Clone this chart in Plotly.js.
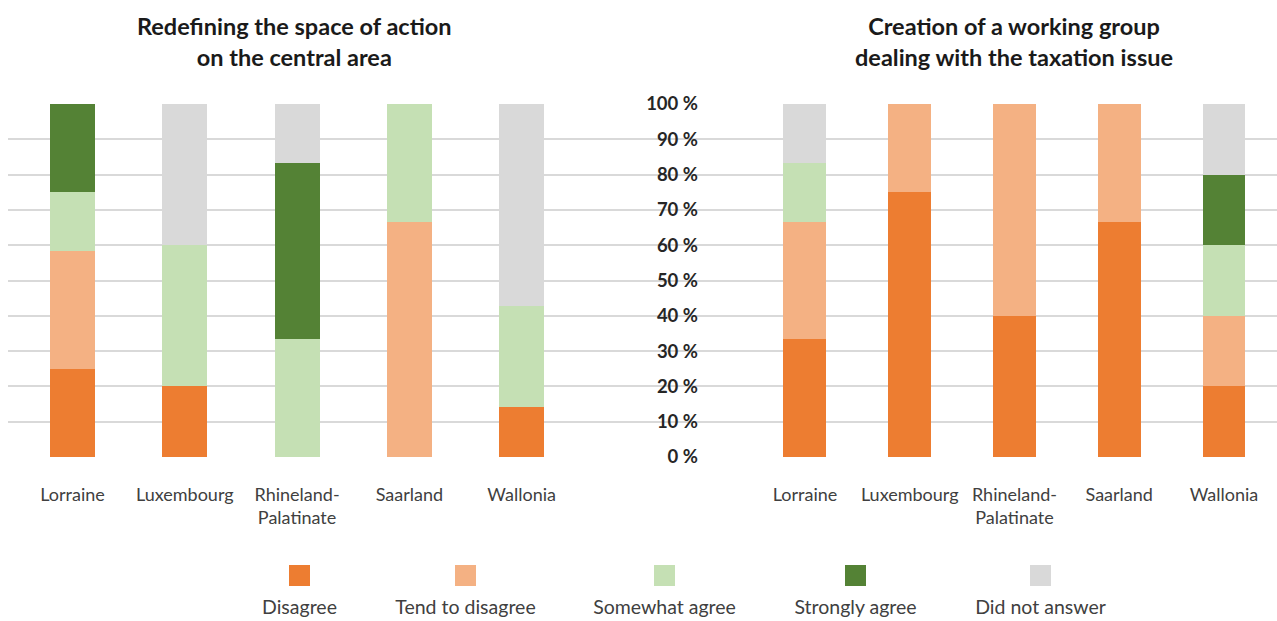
<!DOCTYPE html>
<html>
<head>
<meta charset="utf-8">
<script src="https://cdn.plot.ly/plotly-3.0.1.min.js"></script>
<style>html,body{margin:0;padding:0;background:#fff;}#chart{width:1277px;height:621px;}</style>
</head>
<body>
<div id="chart"></div>
<script>
// ---- data ----
const categories = ['Lorraine', 'Luxembourg', 'Rhineland-<br>Palatinate', 'Saarland', 'Wallonia'];
const seriesNames = ['Disagree', 'Tend to disagree', 'Somewhat agree', 'Strongly agree', 'Did not answer'];
const yTickValues = [0, 10, 20, 30, 40, 50, 60, 70, 80, 90, 100];
const yTickLabels = ['0 %', '10 %', '20 %', '30 %', '40 %', '50 %', '60 %', '70 %', '80 %', '90 %', '100 %'];

const titleLeft = 'Redefining the space of action<br>on the central area';
const titleRight = 'Creation of a working group<br>dealing with the taxation issue';

// left chart: Redefining the space of action on the central area
const leftDisagree  = [25.0, 20.0, 0.0, 0.0, 14.3];
const leftTend      = [33.3, 0.0, 0.0, 66.7, 0.0];
const leftSomewhat  = [16.7, 40.0, 33.3, 33.3, 28.6];
const leftStrongly  = [25.0, 0.0, 50.0, 0.0, 0.0];
const leftNoAnswer  = [0.0, 40.0, 16.7, 0.0, 57.1];

// right chart: Creation of a working group dealing with the taxation issue
const rightDisagree = [33.3, 75.0, 40.0, 66.7, 20.0];
const rightTend     = [33.3, 25.0, 60.0, 33.3, 20.0];
const rightSomewhat = [16.7, 0.0, 0.0, 0.0, 20.0];
const rightStrongly = [0.0, 0.0, 0.0, 0.0, 20.0];
const rightNoAnswer = [16.7, 0.0, 0.0, 0.0, 20.0];

// ---- styles / layout constants ----
const colors = ['#ED7D31', '#F4B183', '#C5E0B4', '#548235', '#D9D9D9'];
const legendX = [299.5, 465.5, 664.5, 855.5, 1040.5]; // legend item centres (px)
const W = 1277, H = 621;
const FONT = 'Lato, "Open Sans", sans-serif';

const leftSeries = [leftDisagree, leftTend, leftSomewhat, leftStrongly, leftNoAnswer];
const rightSeries = [rightDisagree, rightTend, rightSomewhat, rightStrongly, rightNoAnswer];

const traces = [];
seriesNames.forEach((name, i) => {
  traces.push({
    type: 'bar', name: name, x: categories, y: leftSeries[i],
    xaxis: 'x', yaxis: 'y', width: 0.4,
    marker: {color: colors[i], line: {width: 0}}, showlegend: false,
    hovertemplate: '%{x}: %{y} %<extra>' + name + '</extra>'
  });
  traces.push({
    type: 'bar', name: name, x: categories, y: rightSeries[i],
    xaxis: 'x2', yaxis: 'y2', width: 0.41,
    marker: {color: colors[i], line: {width: 0}}, showlegend: false,
    hovertemplate: '%{x}: %{y} %<extra>' + name + '</extra>'
  });
});

// custom legend: square above label
traces.push({
  type: 'scatter', mode: 'markers', x: legendX, y: seriesNames.map(() => 1),
  xaxis: 'x3', yaxis: 'y3', showlegend: false, hoverinfo: 'skip', cliponaxis: false,
  marker: {symbol: 'square', size: 21, color: colors, line: {width: 0}}
});
traces.push({
  type: 'scatter', mode: 'text', x: legendX, y: seriesNames.map(() => 0),
  xaxis: 'x3', yaxis: 'y3', showlegend: false, hoverinfo: 'skip', cliponaxis: false,
  text: seriesNames, textposition: 'middle center',
  textfont: {family: FONT, size: 19.5, color: '#404040'}
});

const px = v => v / W;
const py = v => (H - v) / H;

const yDomain = [py(457), py(104)];
const gridColor = '#D9D9D9';

const layout = {
  width: W, height: H,
  margin: {l: 0, r: 0, t: 0, b: 0},
  paper_bgcolor: '#ffffff', plot_bgcolor: 'rgba(0,0,0,0)',
  barmode: 'stack', bargap: 0.6,
  font: {family: FONT, color: '#404040'},
  xaxis: {
    domain: [px(8), px(700)], type: 'category', range: [-0.574, 5.588],
    showgrid: false, zeroline: false, showline: false, ticks: '',
    tickfont: {family: FONT, size: 18, color: '#404040'}, ticklabelstandoff: 25,
    fixedrange: true
  },
  yaxis: {
    domain: yDomain, range: [0, 100], tickvals: yTickValues,
    showgrid: true, gridcolor: gridColor, gridwidth: 1.6, zeroline: false,
    showticklabels: false, showline: false, fixedrange: true
  },
  xaxis2: {
    domain: [px(700), px(1277)], type: 'category', range: [-1.002, 4.506],
    showgrid: false, zeroline: false, showline: false, ticks: '',
    tickfont: {family: FONT, size: 18, color: '#404040'}, ticklabelstandoff: 25,
    fixedrange: true
  },
  yaxis2: {
    domain: yDomain, range: [0, 100], tickmode: 'array', tickvals: yTickValues, ticktext: yTickLabels,
    anchor: 'free', position: px(698), side: 'left',
    showgrid: true, gridcolor: gridColor, gridwidth: 1.6, zeroline: false,
    showline: false, ticks: '',
    tickfont: {family: FONT, size: 18.5, color: '#262626', weight: 'bold'},
    fixedrange: true
  },
  xaxis3: {domain: [0, 1], range: [0, W], visible: false, fixedrange: true},
  yaxis3: {domain: [py(609), py(575.5)], range: [0, 1], visible: false, fixedrange: true},
  annotations: [
    {text: '<b>' + titleLeft + '</b>', xref: 'paper', yref: 'paper', x: px(294), y: py(42),
     xanchor: 'center', yanchor: 'middle', showarrow: false,
     font: {family: FONT, size: 23.5, color: '#1a1a1a'}},
    {text: '<b>' + titleRight + '</b>', xref: 'paper', yref: 'paper', x: px(1014), y: py(42),
     xanchor: 'center', yanchor: 'middle', showarrow: false,
     font: {family: FONT, size: 23.5, color: '#1a1a1a'}}
  ]
};

Plotly.newPlot('chart', traces, layout, {displayModeBar: false, staticPlot: false});
</script>
</body>
</html>
